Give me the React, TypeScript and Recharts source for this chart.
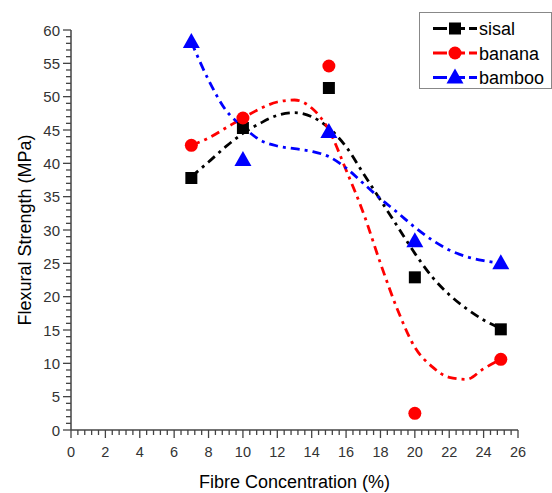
import React from 'react';
import { ComposedChart, Line, Scatter, XAxis, YAxis, Legend } from 'recharts';

// measured points
const fibre = [7, 10, 15, 20, 25];
const sisal = [37.8, 45.3, 51.3, 22.9, 15.1];
const banana = [42.7, 46.8, 54.6, 2.5, 10.6];
const bamboo = [58.2, 40.5, 44.7, 28.3, 25.0];

// fitted curves at each whole %
const fitX = [7, 8, 9, 10, 11, 12, 13, 14, 15, 16, 17, 18, 19, 20, 21, 22, 23, 24, 25];
const sisalFit = [38, 40.2, 42.5, 44.5, 46, 47.2, 47.6, 47, 45.3, 42.5, 38.5, 34.5, 30.5, 26.5, 23, 20.3, 18.2, 16.5, 15.2];
const bananaFit = [42.7, 43.8, 45.3, 46.8, 48.2, 49.2, 49.5, 48.3, 45, 39, 32.6, 25, 18, 12.4, 9.5, 7.9, 7.6, 9.2, 10.6];
const bambooFit = [58.2, 52.5, 48, 45.5, 43.5, 42.6, 42.2, 41.8, 41, 39.3, 37, 34.7, 32.6, 30.4, 28.5, 27, 26, 25.4, 25];

const xMajor = [0, 2, 4, 6, 8, 10, 12, 14, 16, 18, 20, 22, 24, 26];
const yMajor = [0, 5, 10, 15, 20, 25, 30, 35, 40, 45, 50, 55, 60];

const toPts = (ys: number[], xs: number[]) => xs.map((x, i) => ({ x, y: ys[i] }));

// minor ticks: 5 steps between x majors, 5 between y majors
const subdivide = (majors: number[], n: number) => {
  const out: number[] = [];
  for (let i = 0; i < majors.length - 1; i++) {
    const step = (majors[i + 1] - majors[i]) / n;
    for (let k = 0; k < n; k++) out.push(majors[i] + k * step);
  }
  out.push(majors[majors.length - 1]);
  return out;
};
const xTicks = subdivide(xMajor, 5);
const yTicks = subdivide(yMajor, 5);

const AXIS = '#444';
const FONT = '"Liberation Sans", Arial, sans-serif';
const DASH = '9 5 3 5';

const isMajor = (v: number, majors: number[]) => majors.some((m) => Math.abs(m - v) < 1e-6);

const XTick = (props: any) => {
  const { x, y, payload } = props;
  const major = isMajor(payload.value, xMajor);
  return (
    <g>
      <line x1={x} x2={x} y1={y} y2={y + (major ? 8 : 5)} stroke={AXIS} strokeWidth={1.3} />
      {major && (
        <text x={x} y={y + 27} textAnchor="middle" fontSize={14.5} fontFamily={FONT} fill="#333">
          {Math.round(payload.value)}
        </text>
      )}
    </g>
  );
};

const YTick = (props: any) => {
  const { x, y, payload } = props;
  const major = isMajor(payload.value, yMajor);
  return (
    <g>
      <line x1={x} x2={x - (major ? 8 : 5)} y1={y} y2={y} stroke={AXIS} strokeWidth={1.3} />
      {major && (
        <text x={x - 11} y={y + 5.5} textAnchor="end" fontSize={15} fontFamily={FONT} fill="#333">
          {Math.round(payload.value)}
        </text>
      )}
    </g>
  );
};

const Square = ({ cx, cy }: any) => <rect x={cx - 6} y={cy - 6} width={12} height={12} fill="#000" />;
const Dot = ({ cx, cy }: any) => <circle cx={cx} cy={cy} r={6.5} fill="#ff0000" />;
const Tri = ({ cx, cy }: any) => (
  <polygon points={`${cx},${cy - 9} ${cx + 8.5},${cy + 6} ${cx - 8.5},${cy + 6}`} fill="#0000ff" />
);

const legendItems = [
  { name: 'sisal', color: '#000', Shape: Square },
  { name: 'banana', color: '#ff0000', Shape: Dot },
  { name: 'bamboo', color: '#0000ff', Shape: Tri },
];

const LegendBox = () => (
  <div style={{ width: 133, height: 77, border: '1px solid #888', background: '#fff', boxSizing: 'border-box' }}>
    <svg width={131} height={75} style={{ display: 'block' }}>
      {legendItems.map((it, i) => {
        const cy = 15.5 + i * 24.5;
        return (
          <g key={it.name}>
            <line x1={13} x2={57} y1={cy} y2={cy} stroke={it.color} strokeWidth={3} strokeDasharray="14 4" />
            <it.Shape cx={35} cy={cy} />
            <text x={59} y={cy + 6.5} fontSize={18} fontFamily={FONT} fill="#000">
              {it.name}
            </text>
          </g>
        );
      })}
    </svg>
  </div>
);

const YTitle = ({ viewBox }: any) => {
  const cx = viewBox.x + 25;
  const cy = viewBox.y + viewBox.height / 2;
  return (
    <text x={cx} y={cy} transform={`rotate(-90 ${cx} ${cy})`} textAnchor="middle" dominantBaseline="central" fontSize={18} fontFamily={FONT} fill="#000">
      Flexural Strength (MPa)
    </text>
  );
};

const XTitle = ({ viewBox }: any) => (
  <text x={viewBox.x + viewBox.width / 2} y={viewBox.y + 58} textAnchor="middle" fontSize={18} fontFamily={FONT} fill="#000">
    Fibre Concentration (%)
  </text>
);

export default function App() {
  return (
    <div style={{ position: 'absolute', left: 0, top: 0, background: '#fff' }}>
      <ComposedChart width={552} height={493} margin={{ top: 30, right: 34, bottom: 0, left: 0 }}>
        <XAxis
          type="number"
          dataKey="x"
          domain={[0, 26]}
          ticks={xTicks}
          interval={0}
          tickSize={0}
          tickMargin={0}
          tick={<XTick />}
          height={63}
          axisLine={{ stroke: AXIS, strokeWidth: 1.5 }}
          allowDataOverflow
          label={<XTitle />}
        />
        <YAxis
          type="number"
          domain={[0, 60]}
          ticks={yTicks}
          interval={0}
          tickSize={0}
          tickMargin={0}
          tick={<YTick />}
          width={71}
          axisLine={{ stroke: AXIS, strokeWidth: 1.5 }}
          label={<YTitle />}
        />
        <Legend
          verticalAlign="middle"
          align="center"
          layout="horizontal"
          content={() => <LegendBox />}
          wrapperStyle={{ top: 12, left: 419, width: 133, height: 77 }}
        />
        <Line data={toPts(sisalFit, fitX)} dataKey="y" type="monotone" stroke="#000" strokeWidth={2.8} strokeDasharray={DASH} dot={false} isAnimationActive={false} />
        <Line data={toPts(bananaFit, fitX)} dataKey="y" type="monotone" stroke="#ff0000" strokeWidth={2.8} strokeDasharray={DASH} dot={false} isAnimationActive={false} />
        <Line data={toPts(bambooFit, fitX)} dataKey="y" type="monotone" stroke="#0000ff" strokeWidth={2.8} strokeDasharray={DASH} dot={false} isAnimationActive={false} />
        <Scatter data={toPts(sisal, fibre)} dataKey="y" shape={<Square />} isAnimationActive={false} />
        <Scatter data={toPts(banana, fibre)} dataKey="y" shape={<Dot />} isAnimationActive={false} />
        <Scatter data={toPts(bamboo, fibre)} dataKey="y" shape={<Tri />} isAnimationActive={false} />
      </ComposedChart>
    </div>
  );
}
